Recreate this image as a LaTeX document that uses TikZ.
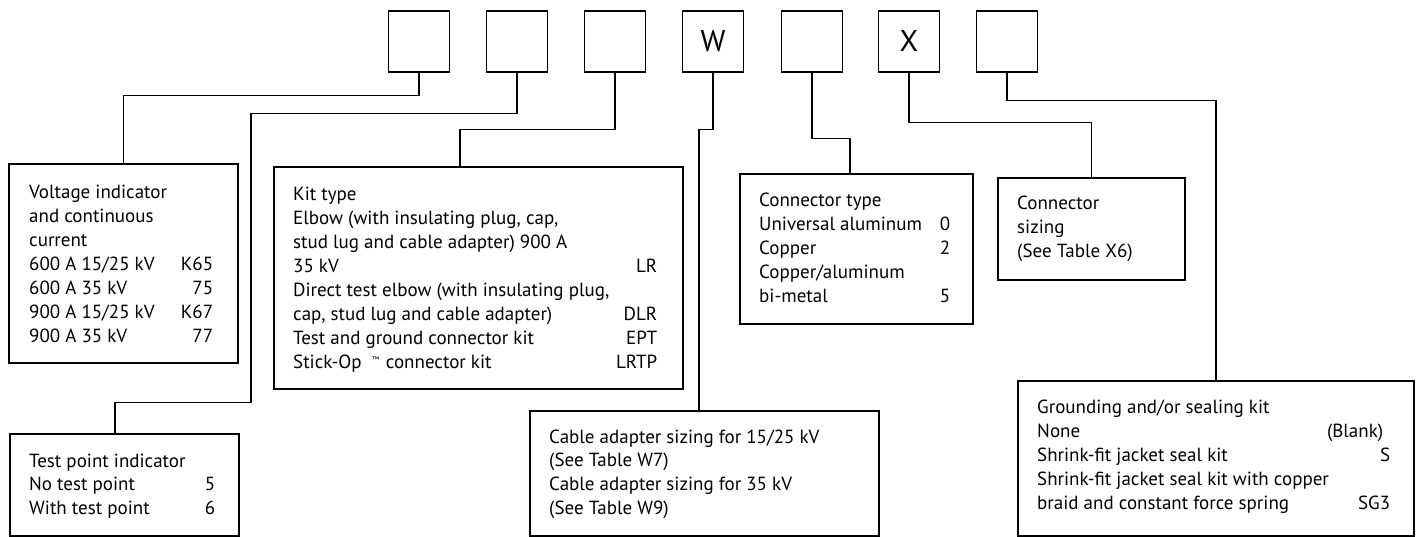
\documentclass[tikz,border=0pt]{standalone}
\usepackage{fontspec}
\setmainfont{PT Sans}
\usetikzlibrary{calc}
\newcommand{\lrow}[3]{\hbox to #1{#2\hfil #3}}
\newcommand{\tblock}[2]{\vtop{\baselineskip=#1\lineskiplimit=-100pt\lineskip=0pt #2}}
\tikzset{
  codebox/.style={draw, line width=1.6pt, minimum width=61pt, minimum height=61pt, anchor=north, inner sep=0pt, font=\fontsize{30pt}{30pt}\selectfont},
  infobox/.style={draw, line width=1.6pt, anchor=north west, inner sep=0pt},
  infotext/.style={anchor=base west, inner sep=0pt, font=\fontsize{19pt}{24pt}\selectfont},
  conn/.style={line width=1.5pt}
}
\begin{document}
\begin{tikzpicture}[x=1pt,y=-1pt]
\useasboundingbox (0,0) rectangle (1418,536);
\fill[white] (0,0) rectangle (1418,536);
% top code boxes
\node[codebox] (b1) at (419,10) {};
\node[codebox] (b2) at (517,10) {};
\node[codebox] (b3) at (615,10) {};
\node[codebox] (bw) at (713,10) {W};
\node[codebox] (b5) at (812,10) {};
\node[codebox] (bx) at (909,10) {X};
\node[codebox] (b7) at (1007,10) {};
% info boxes
\node[infobox, minimum width=229pt, minimum height=199pt] (volt) at (8,163) {};
\node[infobox, minimum width=229pt, minimum height=102pt] (test) at (9,433) {};
\node[infobox, minimum width=409pt, minimum height=222pt] (kit) at (273,166) {};
\node[infobox, minimum width=349pt, minimum height=125pt] (cable) at (529,410) {};
\node[infobox, minimum width=233pt, minimum height=150pt] (ctype) at (739,173) {};
\node[infobox, minimum width=187pt, minimum height=102pt] (csize) at (997,177) {};
\node[infobox, minimum width=396pt, minimum height=155pt] (ground) at (1017,380) {};
% texts
\node[infotext] (vtext) at (29,198) {\tblock{24pt}{%
\lrow{184pt}{Voltage indicator}{}
\lrow{184pt}{and continuous}{}
\lrow{184pt}{current}{}
\lrow{184pt}{600 A 15/25 kV}{K65}
\lrow{184pt}{600 A 35 kV}{75}
\lrow{184pt}{900 A 15/25 kV}{K67}
\lrow{184pt}{900 A 35 kV}{77}}};
\node[infotext] (ttext) at (29,467) {\tblock{23.5pt}{%
\lrow{186pt}{Test point indicator}{}
\lrow{186pt}{No test point}{5}
\lrow{186pt}{With test point}{6}}};
\node[infotext] (ktext) at (293,200) {\tblock{24pt}{%
\lrow{364pt}{Kit type}{}
\lrow{364pt}{Elbow (with insulating plug, cap,}{}
\lrow{364pt}{stud lug and cable adapter) 900 A}{}
\lrow{364pt}{35 kV}{LR}
\lrow{364pt}{Direct test elbow (with insulating plug,}{}
\lrow{364pt}{cap, stud lug and cable adapter)}{DLR}
\lrow{364pt}{Test and ground connector kit}{EPT}
\lrow{364pt}{Stick-Op\hspace{0.55em}\raisebox{0.55ex}{\fontsize{8pt}{8pt}\selectfont ™}\hspace{0.35em}connector kit}{LRTP}}};
\node[infotext] (ctext) at (759,206) {\tblock{24pt}{%
\lrow{191pt}{Connector type}{}
\lrow{191pt}{Universal aluminum}{0}
\lrow{191pt}{Copper}{2}
\lrow{191pt}{Copper/aluminum}{}
\lrow{191pt}{bi-metal}{5}}};
\node[infotext] (stext) at (1017,209) {\tblock{24pt}{%
\lrow{150pt}{Connector}{}
\lrow{150pt}{sizing}{}
\lrow{150pt}{(See Table X6)}{}}};
\node[infotext] (atext) at (549,443) {\tblock{23.7pt}{%
\lrow{300pt}{Cable adapter sizing for 15/25 kV}{}
\lrow{300pt}{(See Table W7)}{}
\lrow{300pt}{Cable adapter sizing for 35 kV}{}
\lrow{300pt}{(See Table W9)}{}}};
\node[infotext] (gtext) at (1037,413) {\tblock{24pt}{%
\lrow{353pt}{Grounding and/or sealing kit}{}
\lrow{353pt}{None}{(Blank)\hspace{7pt}}
\lrow{353pt}{Shrink-fit jacket seal kit}{S}
\lrow{353pt}{Shrink-fit jacket seal kit with copper}{}
\lrow{353pt}{braid and constant force spring}{SG3}}};
% connectors
\draw[conn] (b1.south) -- ++(0,23) -| (volt.north);
\draw[conn] (b2.south) -- ++(0,41) -| ++(-266,289) -| ([xshift=106pt]test.north west);
\draw[conn] (b3.south) -- ++(0,57) -| ([xshift=187pt]kit.north west);
\draw[conn] (bw.south) -- ++(0,57) -| ([xshift=170pt]cable.north west);
\draw[conn] (b5.south) -- ++(0,66) -| ([xshift=111pt]ctype.north west);
\draw[conn] (bx.south) -- ++(0,50) -| (csize.north);
\draw[conn] (b7.south) -- ++(0,28) -| (ground.north);
\end{tikzpicture}
\end{document}
